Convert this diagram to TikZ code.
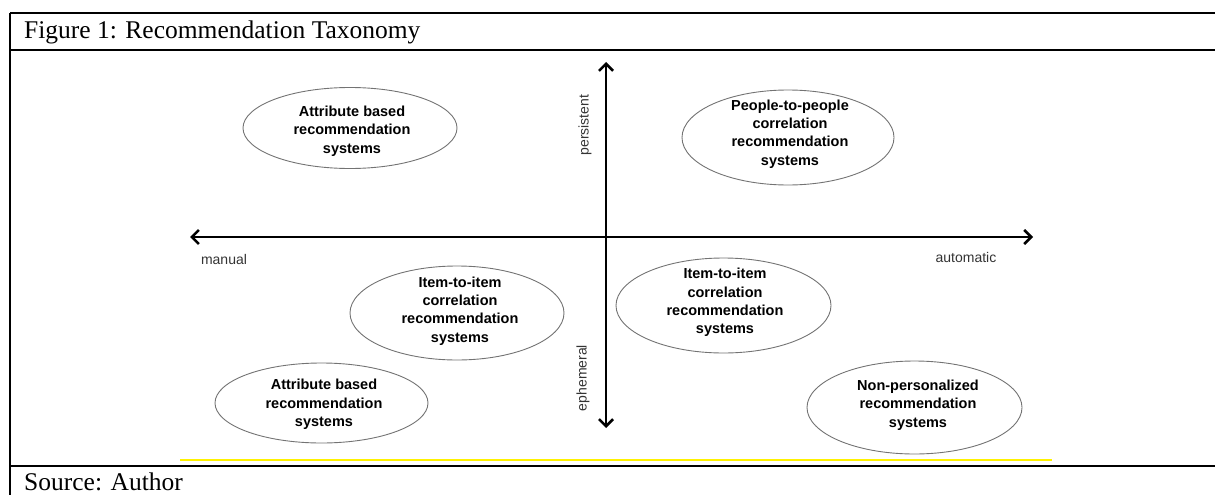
\documentclass[tikz,border=0pt]{standalone}
\usepackage{fontspec}
\setmainfont{Liberation Serif}
\newfontfamily\arialfont{Liberation Sans}
\usetikzlibrary{arrows.meta}
\begin{document}
\begin{tikzpicture}[x=1pt,y=-1pt,
  rule/.style={line width=2.6pt},
  barb/.tip={Straight Barb[length=7pt,width=14pt]},
  axis/.style={line width=2.6pt,barb-barb},
  oval/.style={draw=black!55,line width=0.9pt},
  ovaltext/.style={align=center,inner sep=0pt,
    font=\arialfont\bfseries\fontsize{14.5}{18.3}\selectfont},
  axislabel/.style={inner sep=0pt,text=black!80,
    font=\arialfont\fontsize{14}{16}\selectfont},
  caption/.style={inner sep=0pt,anchor=base west,
    font=\fontsize{25.5}{30}\selectfont}
]
\useasboundingbox (0,0) rectangle (1215,495);

% table frame
\draw[rule] (10,13) -- (1215,13);
\draw[rule] (10,50) -- (1215,50);
\draw[rule] (10,466) -- (1215,466);
\draw[rule] (10,13) -- (10,495);
\node[caption] (title) at (24,39) {Figure 1: Recommendation Taxonomy};
\node[caption] (source) at (24,490.5) {Source: Author};

% yellow underline of the figure area
\draw[yellow,line width=1.5pt] (180,460) -- (1052,460);

% axes
\coordinate (west) at (190,237);
\coordinate (east) at (1033,237);
\coordinate (north) at (606,62);
\coordinate (south) at (606,428);
\draw[axis] (west) -- (east);
\draw[axis] (north) -- (south);

\node[axislabel,rotate=90] (persistent) at (585,125) {persistent};
\node[axislabel,rotate=90] (ephemeral) at (583,378) {ephemeral};
\node[axislabel] (manual) at (224,259) {manual};
\node[axislabel] (automatic) at (966,257) {automatic};

% categories
\draw[oval] (350,128) ellipse [x radius=107, y radius=40.5];
\node[ovaltext] (attrtop) at (352,131) {Attribute based\\recommendation\\systems};

\draw[oval] (788,137.5) ellipse [x radius=106, y radius=47.5];
\node[ovaltext] (people) at (790,134) {People-to-people\\correlation\\recommendation\\systems};

\draw[oval] (457,313) ellipse [x radius=107, y radius=47];
\node[ovaltext] (itemleft) at (460,311) {Item-to-item\\correlation\\recommendation\\systems};

\draw[oval] (321.5,403) ellipse [x radius=106.5, y radius=40];
\node[ovaltext] (attrbottom) at (324,404.5) {Attribute based\\recommendation\\systems};

\draw[oval] (723.5,305.5) ellipse [x radius=107.5, y radius=47.5];
\node[ovaltext] (itemright) at (725,302.5) {Item-to-item\\correlation\\recommendation\\systems};

\draw[oval] (914.5,407.5) ellipse [x radius=107.5, y radius=46.5];
\node[ovaltext] (nonpers) at (918,405) {Non-personalized\\recommendation\\systems};
\end{tikzpicture}
\end{document}
